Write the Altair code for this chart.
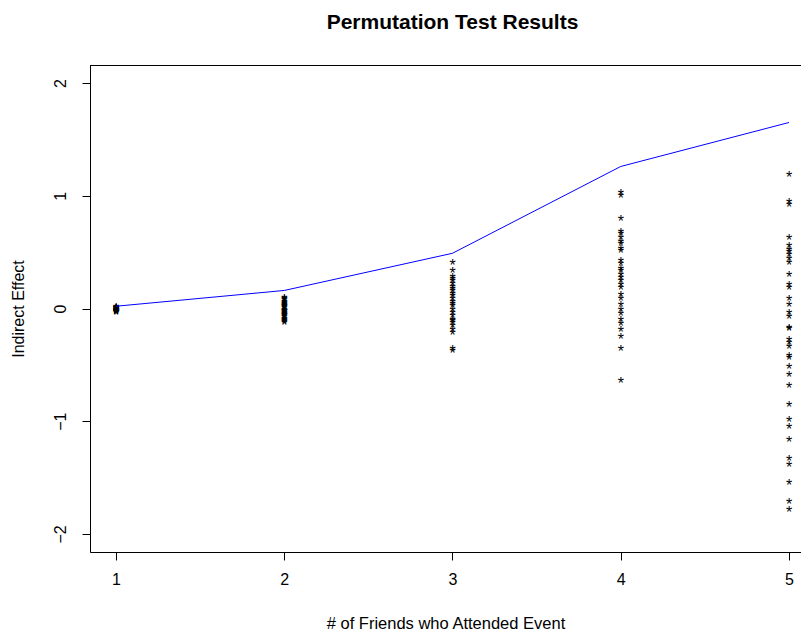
import altair as alt
import pandas as pd

# ---- data ----
x_levels = [1, 2, 3, 4, 5]
observed = [0.02, 0.16, 0.49, 1.26, 1.65]

perm_1 = [0.02, 0.015, 0.01, 0.01, 0.005, 0.0, 0.0, -0.005, -0.01, -0.01,
          -0.015, -0.02, -0.02, -0.025, -0.03, 0.0, 0.01, -0.01, 0.005, -0.02]
perm_2 = [0.10, 0.09, 0.08, 0.07, 0.06, 0.05, 0.04, 0.03, 0.02, 0.01, 0.0,
          -0.01, -0.02, -0.03, -0.04, -0.05, -0.06, -0.07, -0.08, -0.09,
          -0.10, -0.11, -0.12, 0.035, -0.015, -0.045]
perm_3 = [0.41, 0.34, 0.29, 0.27, 0.23, 0.20, 0.18, 0.14, 0.12, 0.09, 0.05,
          0.03, 0.00, -0.06, -0.09, -0.12, -0.15, -0.18, -0.21, -0.35, -0.37,
          0.25, 0.16, 0.07, -0.03, -0.10]
perm_4 = [1.03, 1.01, 0.80, 0.69, 0.67, 0.63, 0.60, 0.58, 0.54, 0.52, 0.43,
          0.40, 0.36, 0.34, 0.31, 0.28, 0.25, 0.22, 0.19, 0.13, 0.09, 0.04,
          0.00, -0.04, -0.09, -0.13, -0.18, -0.24, -0.35, -0.63]
perm_5 = [1.19, 0.95, 0.93, 0.63, 0.56, 0.53, 0.51, 0.48, 0.45, 0.41, 0.31,
          0.22, 0.19, 0.09, 0.04, -0.03, -0.07, -0.16, -0.17, -0.27, -0.30,
          -0.33, -0.41, -0.43, -0.51, -0.58, -0.68, -0.85, -0.98, -1.04,
          -1.16, -1.33, -1.38, -1.54, -1.71, -1.78]

y_ticks = [-2, -1, 0, 1, 2]

perms = [perm_1, perm_2, perm_3, perm_4, perm_5]
pts = pd.DataFrame(
    [{"friends": x, "effect": v} for x, vals in zip(x_levels, perms) for v in vals]
)
obs = pd.DataFrame({"friends": x_levels, "effect": observed})

W, H = 711, 487
FONT = "Liberation Sans"

xscale = alt.Scale(domain=[0.8455, 5.0713], nice=False, zero=False)
yscale = alt.Scale(domain=[-2.16, 2.16], nice=False, zero=False)

xenc = alt.X(
    "friends:Q", scale=xscale,
    axis=alt.Axis(values=x_levels, format="d", grid=False, tickSize=8,
                  labelPadding=11, title="# of Friends who Attended Event",
                  titlePadding=28, domainColor="black", tickColor="black",
                  labelColor="black", titleColor="black", labelFont=FONT,
                  titleFont=FONT, labelFontSize=16, titleFontSize=16.5,
                  titleFontWeight="normal", labelFlush=False),
)
yenc = alt.Y(
    "effect:Q", scale=yscale,
    axis=alt.Axis(values=y_ticks, format="d", grid=False, tickSize=8,
                  labelAngle=270, labelAlign="center", labelBaseline="bottom",
                  labelPadding=14, title="Indirect Effect", titlePadding=26,
                  domainColor="black", tickColor="black", labelColor="black",
                  titleColor="black", labelFont=FONT, titleFont=FONT,
                  labelFontSize=16, titleFontSize=16, titleFontWeight="normal",
                  labelFlush=False),
)

# R's pch = "*": the asterisk character itself
stars = alt.Chart(pts).mark_text(
    text="*", fontSize=16, font=FONT, color="black", baseline="alphabetic", dy=9
).encode(x=xenc, y=yenc)

line = alt.Chart(obs).mark_line(color="#0000FF", strokeWidth=1).encode(
    x="friends:Q", y="effect:Q"
)

top_border = alt.Chart(obs).mark_rule(color="black", strokeWidth=1).encode(
    x=alt.value(0), x2=alt.value(W), y=alt.value(0.5)
)

chart = alt.layer(stars, line, top_border).properties(
    width=W, height=H,
    title=alt.Title("Permutation Test Results", font=FONT, fontSize=21,
                    fontWeight="bold", color="black", offset=32, dx=7),
    autosize=alt.AutoSizeParams(type="none"),
    padding={"left": 82, "top": 57, "right": 0, "bottom": 90},
).configure_view(stroke=None).configure(background="white")

chart.save("out.html", embed_options={"renderer": "svg", "actions": False})
